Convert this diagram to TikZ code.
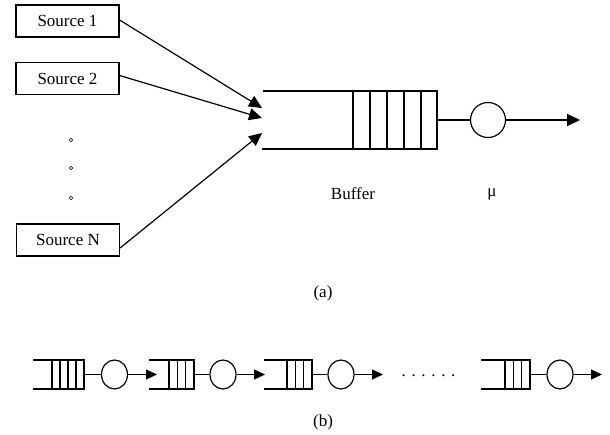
\documentclass[tikz,border=0pt]{standalone}
\usepackage{fontspec}
\setmainfont{Liberation Serif}
\usetikzlibrary{arrows.meta,shapes.geometric}
\begin{document}
\begin{tikzpicture}[x=1pt,y=-1pt,
  srcbox/.style={draw, line width=1.2pt, minimum width=103pt, minimum height=32pt, inner sep=0pt, font=\fontsize{17}{20}\selectfont},
  lbl/.style={font=\fontsize{17}{20}\selectfont, inner sep=0pt},
  qline/.style={line width=1.2pt},
  bigarrow/.style={line width=1.2pt, -{Triangle[length=13pt,width=12pt]}},
  smallarrow/.style={line width=1.2pt, -{Triangle[length=11pt,width=10pt]}},
  server/.style={draw, line width=1.2pt, circle, minimum size=35pt, inner sep=0pt},
  sserver/.style={draw, line width=1.2pt, ellipse, minimum width=26pt, minimum height=29pt, inner sep=0pt},
  vdot/.style={draw, line width=0.6pt, circle, minimum size=3.5pt, inner sep=0pt}]
\useasboundingbox (0,0) rectangle (610,434);

% ---------- (a) ----------
\node[srcbox] (s1) at (67.5,21) {Source 1};
\node[srcbox] (s2) at (67.5,78.5) {Source 2};
\node[srcbox] (sN) at (68,240) {Source N};
\node[vdot] (d1) at (71,140) {};
\node[vdot] (d2) at (71,168) {};
\node[vdot] (d3) at (71,198) {};

\coordinate (t1) at (262,108);
\coordinate (t2) at (262,118);
\coordinate (tN) at (262,133);
\draw[bigarrow] ([yshift=1pt]s1.east) -- (t1);
\draw[bigarrow] ([yshift=3pt]s2.east) -- (t2);
\draw[bigarrow] ([yshift=-8pt]sN.east) -- (tN);

% buffer
\draw[qline] (263,91) -- (437,91) -- (437,149) -- (262,149);
\foreach \x in {353,370,387,404,421} \draw[qline] (\x,91) -- (\x,149);
\coordinate (bufR) at (437,120);
\node[server] (mu) at (488,120) {};
\draw[qline] (bufR) -- (mu.west);
\coordinate (out) at (580,120);
\draw[bigarrow] (mu.east) -- (out);

\node[lbl] (buflbl) at (353,194) {Buffer};
\node[lbl] (mulbl) at (492,194) {μ};
\node[lbl] (capa) at (323,293) {(a)};

% ---------- (b) ----------
\foreach \l/\c/\r/\n/\cx/\tip [count=\i] in {33/52/84/4/114.5/157, 149/169/194/3/223/265, 264/287/312/3/341/383, 481/505/530/3/560/602}{
  \draw[qline] (\l,360) -- (\r,360) -- (\r,389) -- (\l,389);
  \pgfmathsetmacro{\w}{(\r-\c)/\n}
  \pgfmathtruncatemacro{\nm}{\n-1}
  \foreach \k in {0,...,\nm}{
    \pgfmathsetmacro{\xx}{\c+\k*\w}
    \draw[qline] (\xx,360) -- (\xx,389);
  }
  \coordinate (qr\i) at (\r,374.5);
  \node[sserver] (q\i) at (\cx,374.5) {};
  \draw[qline] (qr\i) -- (q\i.west);
  \coordinate (qt\i) at (\tip,374.5);
  \draw[smallarrow] (q\i.east) -- (qt\i);
}
\node[lbl] (dots) at (428.5,376) {. . . . . .};
\node[lbl] (capb) at (323,422) {(b)};
\end{tikzpicture}
\end{document}
